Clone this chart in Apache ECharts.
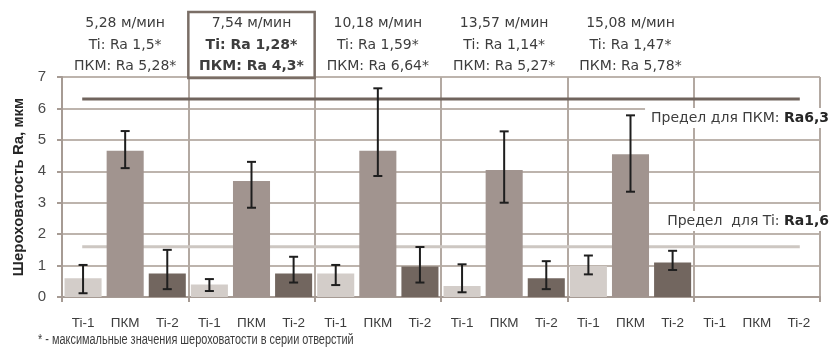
<!DOCTYPE html>
<html>
<head>
<meta charset="utf-8">
<script src="https://cdn.jsdelivr.net/npm/echarts@6/dist/echarts.min.js"></script>
<style>
  html, body { margin: 0; padding: 0; background: #fff; }
  #chart { width: 832px; height: 354px; }
</style>
</head>
<body>
<div id="chart"></div>
<script>
const FONT = '"Liberation Sans", Arial, sans-serif';
const WIDE = '"DejaVu Sans", sans-serif';

// 6 groups x 3 bars (the last group is empty)
const categories = [
  'Ti-1', 'ПКМ', 'Ti-2', 'Ti-1', 'ПКМ', 'Ti-2', 'Ti-1', 'ПКМ', 'Ti-2',
  'Ti-1', 'ПКМ', 'Ti-2', 'Ti-1', 'ПКМ', 'Ti-2', 'Ti-1', 'ПКМ', 'Ti-2'
];
const meanRa = [
  0.6, 4.65, 0.75, 0.4, 3.69, 0.75, 0.75, 4.65, 0.97,
  0.35, 4.04, 0.6, 0.99, 4.54, 1.1, null, null, null
];
const lowRa = [
  0.12, 4.1, 0.25, 0.19, 2.84, 0.46, 0.38, 3.85, 0.46,
  0.15, 3.0, 0.25, 0.72, 3.35, 0.86, null, null, null
];
const highRa = [
  1.02, 5.28, 1.5, 0.57, 4.3, 1.28, 1.02, 6.64, 1.59,
  1.04, 5.27, 1.14, 1.32, 5.78, 1.47, null, null, null
];

// annotations above the groups
const speeds = ['5,28 м/мин', '7,54 м/мин', '10,18 м/мин', '13,57 м/мин', '15,08 м/мин'];
const tiMax = ['1,5', '1,28', '1,59', '1,14', '1,47'];
const pkmMax = ['5,28', '4,3', '6,64', '5,27', '5,78'];
const highlightGroup = 1;

const limitPkm = 6.3;
const limitTi = 1.6;
const limitSpan = [0.16, 5.84]; // in group units

const barColors = ['#d3cdc9', '#a1948f', '#72665f'];
const textColor = '#3d3d3d';

const chart = echarts.init(document.getElementById('chart'), null, { renderer: 'canvas' });

const barData = meanRa.map((v, i) => ({ value: v, itemStyle: { color: barColors[i % 3] } }));
const errData = categories.map((c, i) => [i, lowRa[i], highRa[i]]).filter(d => d[1] != null);

const option = {
  animation: false,
  grid: { left: 62, right: 12, top: 77, bottom: 57 },
  xAxis: [
    {
      type: 'category',
      data: categories,
      axisLine: { show: false },
      axisTick: { show: false },
      axisLabel: { fontFamily: FONT, fontSize: 13.5, color: textColor, margin: 19, interval: 0 },
      splitLine: { show: false }
    },
    {
      type: 'value',
      min: 0,
      max: 6,
      interval: 1,
      position: 'bottom',
      axisLine: { show: true, onZero: false, lineStyle: { color: '#a69b94', width: 2 } },
      axisTick: { show: true, length: 5, lineStyle: { color: '#a69b94', width: 2 } },
      axisLabel: { show: false },
      splitLine: { show: true, lineStyle: { color: '#b3a9a2', width: 2 } }
    }
  ],
  yAxis: {
    type: 'value',
    min: 0,
    max: 7,
    interval: 1,
    name: 'Шероховатость Ra, мкм',
    nameLocation: 'middle',
    nameGap: 35,
    nameTextStyle: { fontFamily: FONT, fontSize: 15, fontWeight: 'bold', color: '#262626' },
    axisLine: { show: true, lineStyle: { color: '#a69b94', width: 2 } },
    axisTick: { show: true, length: 5, lineStyle: { color: '#a69b94', width: 2 } },
    axisLabel: { fontFamily: FONT, fontSize: 15, color: '#4a4a4a', margin: 16 },
    splitLine: { show: true, lineStyle: { color: '#bdb4ad', width: 2 } }
  },
  series: [
    {
      type: 'bar',
      data: barData,
      barWidth: '88%',
      silent: true
    },
    {
      type: 'line',
      xAxisIndex: 1,
      data: limitSpan.map(x => [x, limitPkm]),
      symbol: 'none',
      lineStyle: { color: '#70645d', width: 3 },
      silent: true,
      z: 3
    },
    {
      type: 'line',
      xAxisIndex: 1,
      data: limitSpan.map(x => [x, limitTi]),
      symbol: 'none',
      lineStyle: { color: '#cdc7c2', width: 3 },
      silent: true,
      z: 1
    },
    {
      type: 'custom',
      data: errData,
      z: 4,
      renderItem: (params, api) => {
        const top = api.coord([api.value(0), api.value(2)]);
        const bot = api.coord([api.value(0), api.value(1)]);
        const cap = 4.5;
        const style = { stroke: '#1e1e1e', lineWidth: 2 };
        return {
          type: 'group',
          children: [
            { type: 'line', shape: { x1: top[0], y1: top[1], x2: bot[0], y2: bot[1] }, style },
            { type: 'line', shape: { x1: top[0] - cap, y1: top[1], x2: top[0] + cap, y2: top[1] }, style },
            { type: 'line', shape: { x1: bot[0] - cap, y1: bot[1], x2: bot[0] + cap, y2: bot[1] }, style }
          ]
        };
      }
    }
  ]
};

chart.setOption(option);

// annotations placed from axis positions
const px = (g) => chart.convertToPixel({ xAxisIndex: 1 }, g);
const graphics = [];
speeds.forEach((s, k) => {
  const cx = px(k + 0.5);
  const bold = k === highlightGroup ? 'bold' : 'normal';
  const lines = [s, 'Ti: Ra ' + tiMax[k] + '*', 'ПКМ: Ra ' + pkmMax[k] + '*'];
  const ys = [23, 45, 66];
  lines.forEach((t, j) => {
    graphics.push({
      type: 'text',
      style: {
        x: cx, y: ys[j], text: t, align: 'center', verticalAlign: 'middle',
        font: (j > 0 ? bold : 'normal') + ' 14px ' + WIDE, fill: textColor
      }
    });
  });
});
graphics.push({
  type: 'rect',
  shape: { x: px(highlightGroup), y: 12, width: px(highlightGroup + 1) - px(highlightGroup), height: 66 },
  style: { fill: 'none', stroke: '#7a6e66', lineWidth: 2.5 },
  z: 10
});
const limitRich = {
  n: { fontFamily: WIDE, fontSize: 14, fill: textColor },
  b: { fontFamily: WIDE, fontSize: 14, fontWeight: 'bold', fill: '#262626' }
};
graphics.push({
  type: 'text',
  z: 10,
  style: {
    x: 830, y: 118, align: 'right', verticalAlign: 'middle',
    text: '{n|Предел для ПКМ: }{b|Ra6,3}',
    backgroundColor: '#fff', padding: [3, 1, 3, 6],
    rich: limitRich
  }
});
graphics.push({
  type: 'text',
  z: 10,
  style: {
    x: 830, y: 221, align: 'right', verticalAlign: 'middle',
    text: '{n|Предел  для Ti: }{b|Ra1,6}',
    backgroundColor: '#fff', padding: [3, 1, 3, 6],
    rich: limitRich
  }
});
graphics.push({
  type: 'text',
  x: 38,
  scaleX: 0.78,
  style: {
    x: 0, y: 340, verticalAlign: 'middle',
    text: '* - максимальные значения шероховатости в серии отверстий',
    font: 'normal 14px ' + FONT, fill: textColor
  }
});
chart.setOption({ graphic: graphics });
</script>
</body>
</html>
